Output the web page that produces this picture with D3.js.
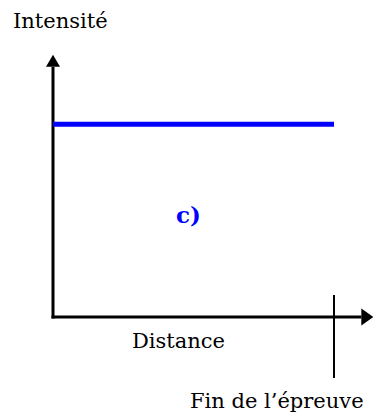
<!DOCTYPE html>
<html>
<head>
<meta charset="utf-8">
<script src="https://cdn.jsdelivr.net/npm/d3@7"></script>
<style>
  body { margin: 0; background: #fff; }
</style>
</head>
<body>
<script>
// séries (schéma : intensité constante jusqu'à la fin de l'épreuve)
const distance = [0, 100];
const intensity = [75, 75];
const finishDistance = 100;
const xAxisEnd = 114;
const yAxisEnd = 102;
const yLabel = "Intensité";
const xLabel = "Distance";
const finishLabel = "Fin de l\u2019épreuve";
const panelLabel = "c)";

const width = 373, height = 416;
const serif = "'DejaVu Serif', serif";

const svg = d3.select("body").append("svg")
    .attr("width", width)
    .attr("height", height);

// échelles
const xScale = d3.scaleLinear().domain([0, 100]).range([53, 334]);
const yScale = d3.scaleLinear().domain([0, 100]).range([317, 60]);

const x0 = xScale(0), y0 = yScale(0);
const xTip = xScale(xAxisEnd), yTip = yScale(yAxisEnd);

// axe vertical
svg.append("line")
    .attr("x1", x0).attr("x2", x0)
    .attr("y1", y0 + 1.5).attr("y2", yTip + 12)
    .attr("stroke", "#000").attr("stroke-width", 3);
svg.append("path")
    .attr("d", `M${x0},${yTip} L${x0 - 7},${yTip + 12} L${x0 + 7},${yTip + 12} Z`)
    .attr("fill", "#000");

// axe horizontal
svg.append("line")
    .attr("x1", x0 - 1.5).attr("x2", xTip - 12)
    .attr("y1", y0).attr("y2", y0)
    .attr("stroke", "#000").attr("stroke-width", 3);
svg.append("path")
    .attr("d", `M${xTip},${y0} L${xTip - 12},${y0 - 8.5} L${xTip - 12},${y0 + 8.5} Z`)
    .attr("fill", "#000");

// fin de l'épreuve
svg.append("line")
    .attr("x1", xScale(finishDistance)).attr("x2", xScale(finishDistance))
    .attr("y1", 295).attr("y2", 378)
    .attr("stroke", "#000").attr("stroke-width", 2);

// courbe d'intensité
const line = d3.line()
    .x((d, i) => xScale(distance[i]))
    .y(d => yScale(d));
svg.append("path")
    .datum(intensity)
    .attr("fill", "none")
    .attr("stroke", "#0000ff")
    .attr("stroke-width", 5)
    .attr("d", line);

// textes
svg.append("text").attr("x", 13).attr("y", 28)
    .attr("font-family", serif)
    .attr("font-size", 21).text(yLabel);
svg.append("text").attr("x", 132).attr("y", 348)
    .attr("font-family", serif)
    .attr("font-size", 21).text(xLabel);
svg.append("text").attr("x", 190).attr("y", 408)
    .attr("font-family", serif)
    .attr("font-size", 21).text(finishLabel);
svg.append("text").attr("x", 176).attr("y", 223)
    .attr("font-family", serif)
    .attr("font-size", 23).attr("font-weight", "bold")
    .attr("fill", "#0000ff").text(panelLabel);
</script>
</body>
</html>
